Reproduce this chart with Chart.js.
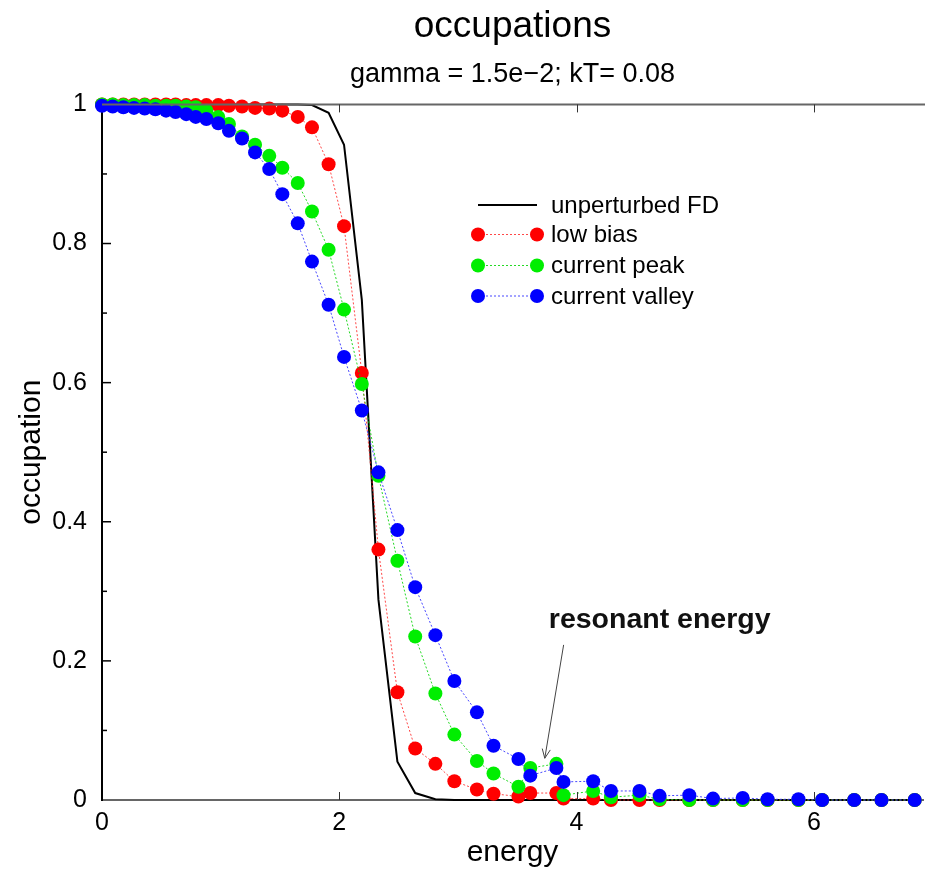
<!DOCTYPE html>
<html><head><meta charset="utf-8">
<script src="https://cdn.jsdelivr.net/npm/chart.js@4.4.0/dist/chart.umd.min.js"></script>
<style>html,body{margin:0;padding:0;background:#fff;}#wrap{width:930px;height:873px;}</style>
</head><body><div id="wrap"><canvas id="c" width="930" height="873"></canvas></div>
<script>
// ---------- data ----------
const energy = [0, 0.09, 0.18, 0.27, 0.36, 0.45, 0.54, 0.62, 0.71, 0.79,
  0.88, 0.98, 1.07, 1.18, 1.29, 1.41, 1.52, 1.65, 1.77, 1.91,
  2.04, 2.19, 2.33, 2.49, 2.64, 2.81, 2.97, 3.16, 3.30, 3.51,
  3.61, 3.83, 3.89, 4.14, 4.29, 4.53, 4.70, 4.95, 5.15, 5.40,
  5.61, 5.87, 6.07, 6.34, 6.57, 6.85];
const fdOcc = [1, 1, 1, 1, 1, 1, 1, 1, 1, 1,
  1, 1, 1, 1, 1, 1, 1, 1, 0.999, 0.988,
  0.942, 0.719, 0.288, 0.055, 0.010, 0.001, 0, 0, 0, 0,
  0, 0, 0, 0, 0, 0, 0, 0, 0, 0,
  0, 0, 0, 0, 0, 0];
const lowBias = [1, 1, 1, 1, 1, 1, 1, 1, 0.999, 0.999,
  0.999, 0.999, 0.998, 0.997, 0.995, 0.994, 0.991, 0.982, 0.967, 0.914,
  0.825, 0.614, 0.360, 0.155, 0.074, 0.052, 0.027, 0.015, 0.009, 0.005,
  0.010, 0.010, 0.002, 0.002, 0, 0, 0, 0, 0, 0,
  0, 0, 0, 0, 0, 0];
const currentPeak = [1, 1, 0.999, 0.999, 0.999, 0.998, 0.998, 0.998, 0.997, 0.996,
  0.991, 0.982, 0.972, 0.954, 0.942, 0.926, 0.909, 0.887, 0.846, 0.791,
  0.705, 0.598, 0.466, 0.344, 0.235, 0.153, 0.094, 0.056, 0.038, 0.019,
  0.046, 0.052, 0.007, 0.013, 0.004, 0.007, 0.001, 0, 0, 0,
  0, 0, 0, 0, 0, 0];
const currentValley = [0.998, 0.997, 0.996, 0.995, 0.994, 0.993, 0.991, 0.989, 0.986, 0.982,
  0.979, 0.973, 0.962, 0.951, 0.931, 0.907, 0.871, 0.829, 0.774, 0.712,
  0.637, 0.560, 0.471, 0.388, 0.306, 0.237, 0.171, 0.126, 0.078, 0.059,
  0.035, 0.046, 0.026, 0.027, 0.013, 0.013, 0.006, 0.007, 0.002, 0.003,
  0.001, 0.001, 0, 0, 0, 0];
const seriesNames = ['unperturbed FD', 'low bias', 'current peak', 'current valley'];
const xTickValues = [0, 2, 4, 6];
const yTickValues = [0, 0.2, 0.4, 0.6, 0.8, 1];
const yMinorTickValues = [0.1, 0.3, 0.5, 0.7, 0.9];
const titleText = 'occupations';
const subtitleText = 'gamma = 1.5e\u22122; kT= 0.08';
const xAxisTitle = 'energy';
const yAxisTitle = 'occupation';
const annotationText = 'resonant energy';
const annotationAt = [3.766, 0.247];
const arrowFrom = [3.891, 0.223];
const arrowTo = [3.732, 0.060];

// ---------- chart ----------
const F = '"Liberation Sans", Arial, Helvetica, sans-serif';
const pts = arr => energy.map((e, i) => ({x: e, y: arr[i]}));
const colors = ['#000000', '#ff0000', '#00ee00', '#0000ff'];
const lineColors = ['#000000', 'rgba(255,40,40,0.85)', 'rgba(0,210,0,0.85)', 'rgba(40,40,255,0.85)'];

const framePlugin = {
  id: 'frame',
  afterDraw(chart) {
    const {ctx, chartArea: a, scales: {x, y}} = chart;
    ctx.save();
    // top frame line
    ctx.strokeStyle = '#666'; ctx.lineWidth = 2;
    ctx.beginPath(); ctx.moveTo(a.left, a.top); ctx.lineTo(a.right + 2, a.top); ctx.stroke();
    // inward x ticks (bottom & top)
    ctx.strokeStyle = '#333'; ctx.lineWidth = 1;
    xTickValues.forEach(v => {
      if (v === 0) return;
      const px = Math.round(x.getPixelForValue(v)) + 0.5;
      ctx.beginPath(); ctx.moveTo(px, a.bottom); ctx.lineTo(px, a.bottom - 8); ctx.stroke();
      ctx.beginPath(); ctx.moveTo(px, a.top); ctx.lineTo(px, a.top + 8); ctx.stroke();
    });
    // inward y ticks
    ctx.strokeStyle = '#000'; ctx.lineWidth = 1.5;
    yTickValues.forEach(v => {
      if (v === 0 || v === 1) return;
      const py = y.getPixelForValue(v);
      ctx.beginPath(); ctx.moveTo(a.left, py); ctx.lineTo(a.left + 9, py); ctx.stroke();
    });
    yMinorTickValues.forEach(v => {
      const py = y.getPixelForValue(v);
      ctx.beginPath(); ctx.moveTo(a.left, py); ctx.lineTo(a.left + 5, py); ctx.stroke();
    });
    // legend
    const lx0 = 478, lx1 = 537, tx = 551;
    const rows = [205, 234.5, 265.5, 296];
    ctx.font = '24px ' + F; ctx.textBaseline = 'middle'; ctx.textAlign = 'left';
    chart.data.datasets.forEach((ds, i) => {
      const ry = rows[i];
      ctx.save();
      ctx.strokeStyle = lineColors[i];
      ctx.lineWidth = i === 0 ? 2 : 1;
      if (i > 0) ctx.setLineDash([2, 2]);
      ctx.beginPath(); ctx.moveTo(lx0, ry); ctx.lineTo(lx1, ry); ctx.stroke();
      ctx.restore();
      if (i > 0) {
        ctx.fillStyle = colors[i];
        [lx0, lx1].forEach(cx => { ctx.beginPath(); ctx.arc(cx, ry, 7, 0, Math.PI * 2); ctx.fill(); });
      }
      ctx.fillStyle = '#000';
      ctx.fillText(ds.label, tx, ry + 1);
    });
    // annotation
    ctx.font = 'bold 28.5px ' + F; ctx.fillStyle = '#111'; ctx.textBaseline = 'alphabetic';
    ctx.fillText(annotationText, x.getPixelForValue(annotationAt[0]), y.getPixelForValue(annotationAt[1]));
    const fx = x.getPixelForValue(arrowFrom[0]), fy = y.getPixelForValue(arrowFrom[1]);
    const tx2 = x.getPixelForValue(arrowTo[0]), ty2 = y.getPixelForValue(arrowTo[1]);
    ctx.strokeStyle = '#444'; ctx.lineWidth = 1;
    ctx.beginPath(); ctx.moveTo(fx, fy); ctx.lineTo(tx2, ty2); ctx.stroke();
    const ang = Math.atan2(ty2 - fy, tx2 - fx), L = 10, w = 0.42;
    ctx.beginPath();
    ctx.moveTo(tx2 - L * Math.cos(ang - w), ty2 - L * Math.sin(ang - w));
    ctx.lineTo(tx2, ty2);
    ctx.lineTo(tx2 - L * Math.cos(ang + w), ty2 - L * Math.sin(ang + w));
    ctx.stroke();
    ctx.restore();
  }
};

const mkDs = (i, arr, order) => i === 0 ? {
  label: seriesNames[i], data: pts(arr), showLine: true, borderColor: colors[i], borderWidth: 2,
  pointRadius: 0, order: order, clip: false
} : {
  label: seriesNames[i], data: pts(arr), showLine: true, borderColor: lineColors[i], borderWidth: 1,
  borderDash: [2, 2], pointRadius: 7, pointHoverRadius: 7, pointBackgroundColor: colors[i],
  pointBorderWidth: 0, pointBorderColor: colors[i], order: order, clip: false
};

new Chart(document.getElementById('c').getContext('2d'), {
  type: 'scatter',
  data: {datasets: [mkDs(0, fdOcc, 4), mkDs(1, lowBias, 3), mkDs(2, currentPeak, 2), mkDs(3, currentValley, 1)]},
  options: {
    responsive: false, animation: false, devicePixelRatio: 1,
    layout: {padding: {left: 0, right: 1, top: 0, bottom: 0}},
    plugins: {
      legend: {display: false}, tooltip: {enabled: false},
      title: {display: true, fullSize: false, text: titleText, color: '#000', font: {family: F, size: 37, weight: 'normal', lineHeight: 1.2}, padding: {top: 5, bottom: 9.4}},
      subtitle: {display: true, fullSize: false, text: subtitleText, color: '#000', font: {family: F, size: 27, weight: 'normal', lineHeight: 1.2}, padding: {top: 0, bottom: 13.2}}
    },
    scales: {
      x: {
        type: 'linear', min: 0, max: 6.92,
        afterBuildTicks: s => { s.ticks = xTickValues.map(v => ({value: v})); },
        afterFit: s => { s.height = 73; },
        grid: {display: false, drawTicks: false},
        border: {display: true, color: '#666', width: 2},
        ticks: {font: {family: F, size: 25}, color: '#000', padding: 8, maxRotation: 0, autoSkip: false, callback: v => String(v)},
        title: {display: true, text: xAxisTitle, color: '#000', font: {family: F, size: 30}, padding: {top: 0, bottom: 2}}
      },
      y: {
        type: 'linear', min: 0, max: 1,
        afterBuildTicks: s => { s.ticks = yTickValues.map(v => ({value: v})); },
        afterFit: s => { s.width = 102; },
        grid: {display: false, drawTicks: false},
        border: {display: true, color: '#000', width: 2},
        ticks: {font: {family: F, size: 25}, color: '#000', padding: 15, callback: v => String(v)},
        title: {display: true, text: yAxisTitle, color: '#000', font: {family: F, size: 30}, padding: {top: 14, bottom: 0}}
      }
    }
  },
  plugins: [framePlugin]
});
</script>
</body></html>
